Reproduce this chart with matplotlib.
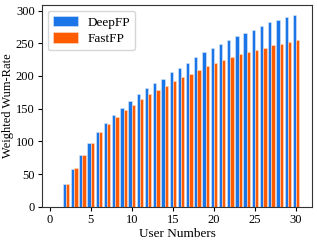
import matplotlib
matplotlib.use("Agg")
import matplotlib.pyplot as plt
import numpy as np

plt.rcParams['font.family'] = ['Liberation Serif', 'DejaVu Serif']
plt.rcParams['mathtext.fontset'] = 'stix'

users = list(range(1, 31))
deepfp = [0, 34, 58, 79, 98, 114, 128, 140, 151.5, 161, 172, 181, 189, 196, 205.5,
          213, 220.5, 228.5, 236, 242.5, 249, 254.5, 261, 265.5, 271, 276, 282,
          285.5, 290, 293.5]
fastfp = [0, 34, 58.5, 79, 98, 114, 127, 137, 147.5, 155.5, 165, 172, 178.6, 184.3,
          192, 198, 203.6, 209.7, 215.4, 220.4, 225, 228.6, 233, 236.3, 240, 243,
          247.5, 249.5, 252, 254.7]
xlabel = "User Numbers"
ylabel = "Weighted Wum-Rate"

fig = plt.figure(figsize=(3.17, 2.42), dpi=100)
ax = fig.add_axes([0.1334, 0.146, 0.983 - 0.1334, 0.978 - 0.146])
x = np.array(users)
w = 0.4
ax.bar(x - w / 2, deepfp, width=w, color='#1a75e8', edgecolor='#dde8f8', linewidth=0.4, label='DeepFP')
ax.bar(x + w / 2, fastfp, width=w, color='#ff5b00', edgecolor='#fbe0d0', linewidth=0.4, label='FastFP')
ax.set_xlabel(xlabel, fontsize=9.5, labelpad=1)
ax.set_ylabel(ylabel, fontsize=9)
ax.yaxis.set_label_coords(-0.105, 0.5)
ax.tick_params(labelsize=9, length=3, width=0.8, pad=2.5)
ax.set_xticks([0, 5, 10, 15, 20, 25, 30])
ax.set_yticks([0, 50, 100, 150, 200, 250, 300])
ax.legend(loc='upper left', fontsize=9.5, handlelength=1.9, handleheight=0.8, borderpad=0.4,
          labelspacing=0.3, handletextpad=0.7, borderaxespad=0.4, fancybox=True)
for s in ax.spines.values():
    s.set_color('#333333')
fig.savefig('out.png', dpi=100)
